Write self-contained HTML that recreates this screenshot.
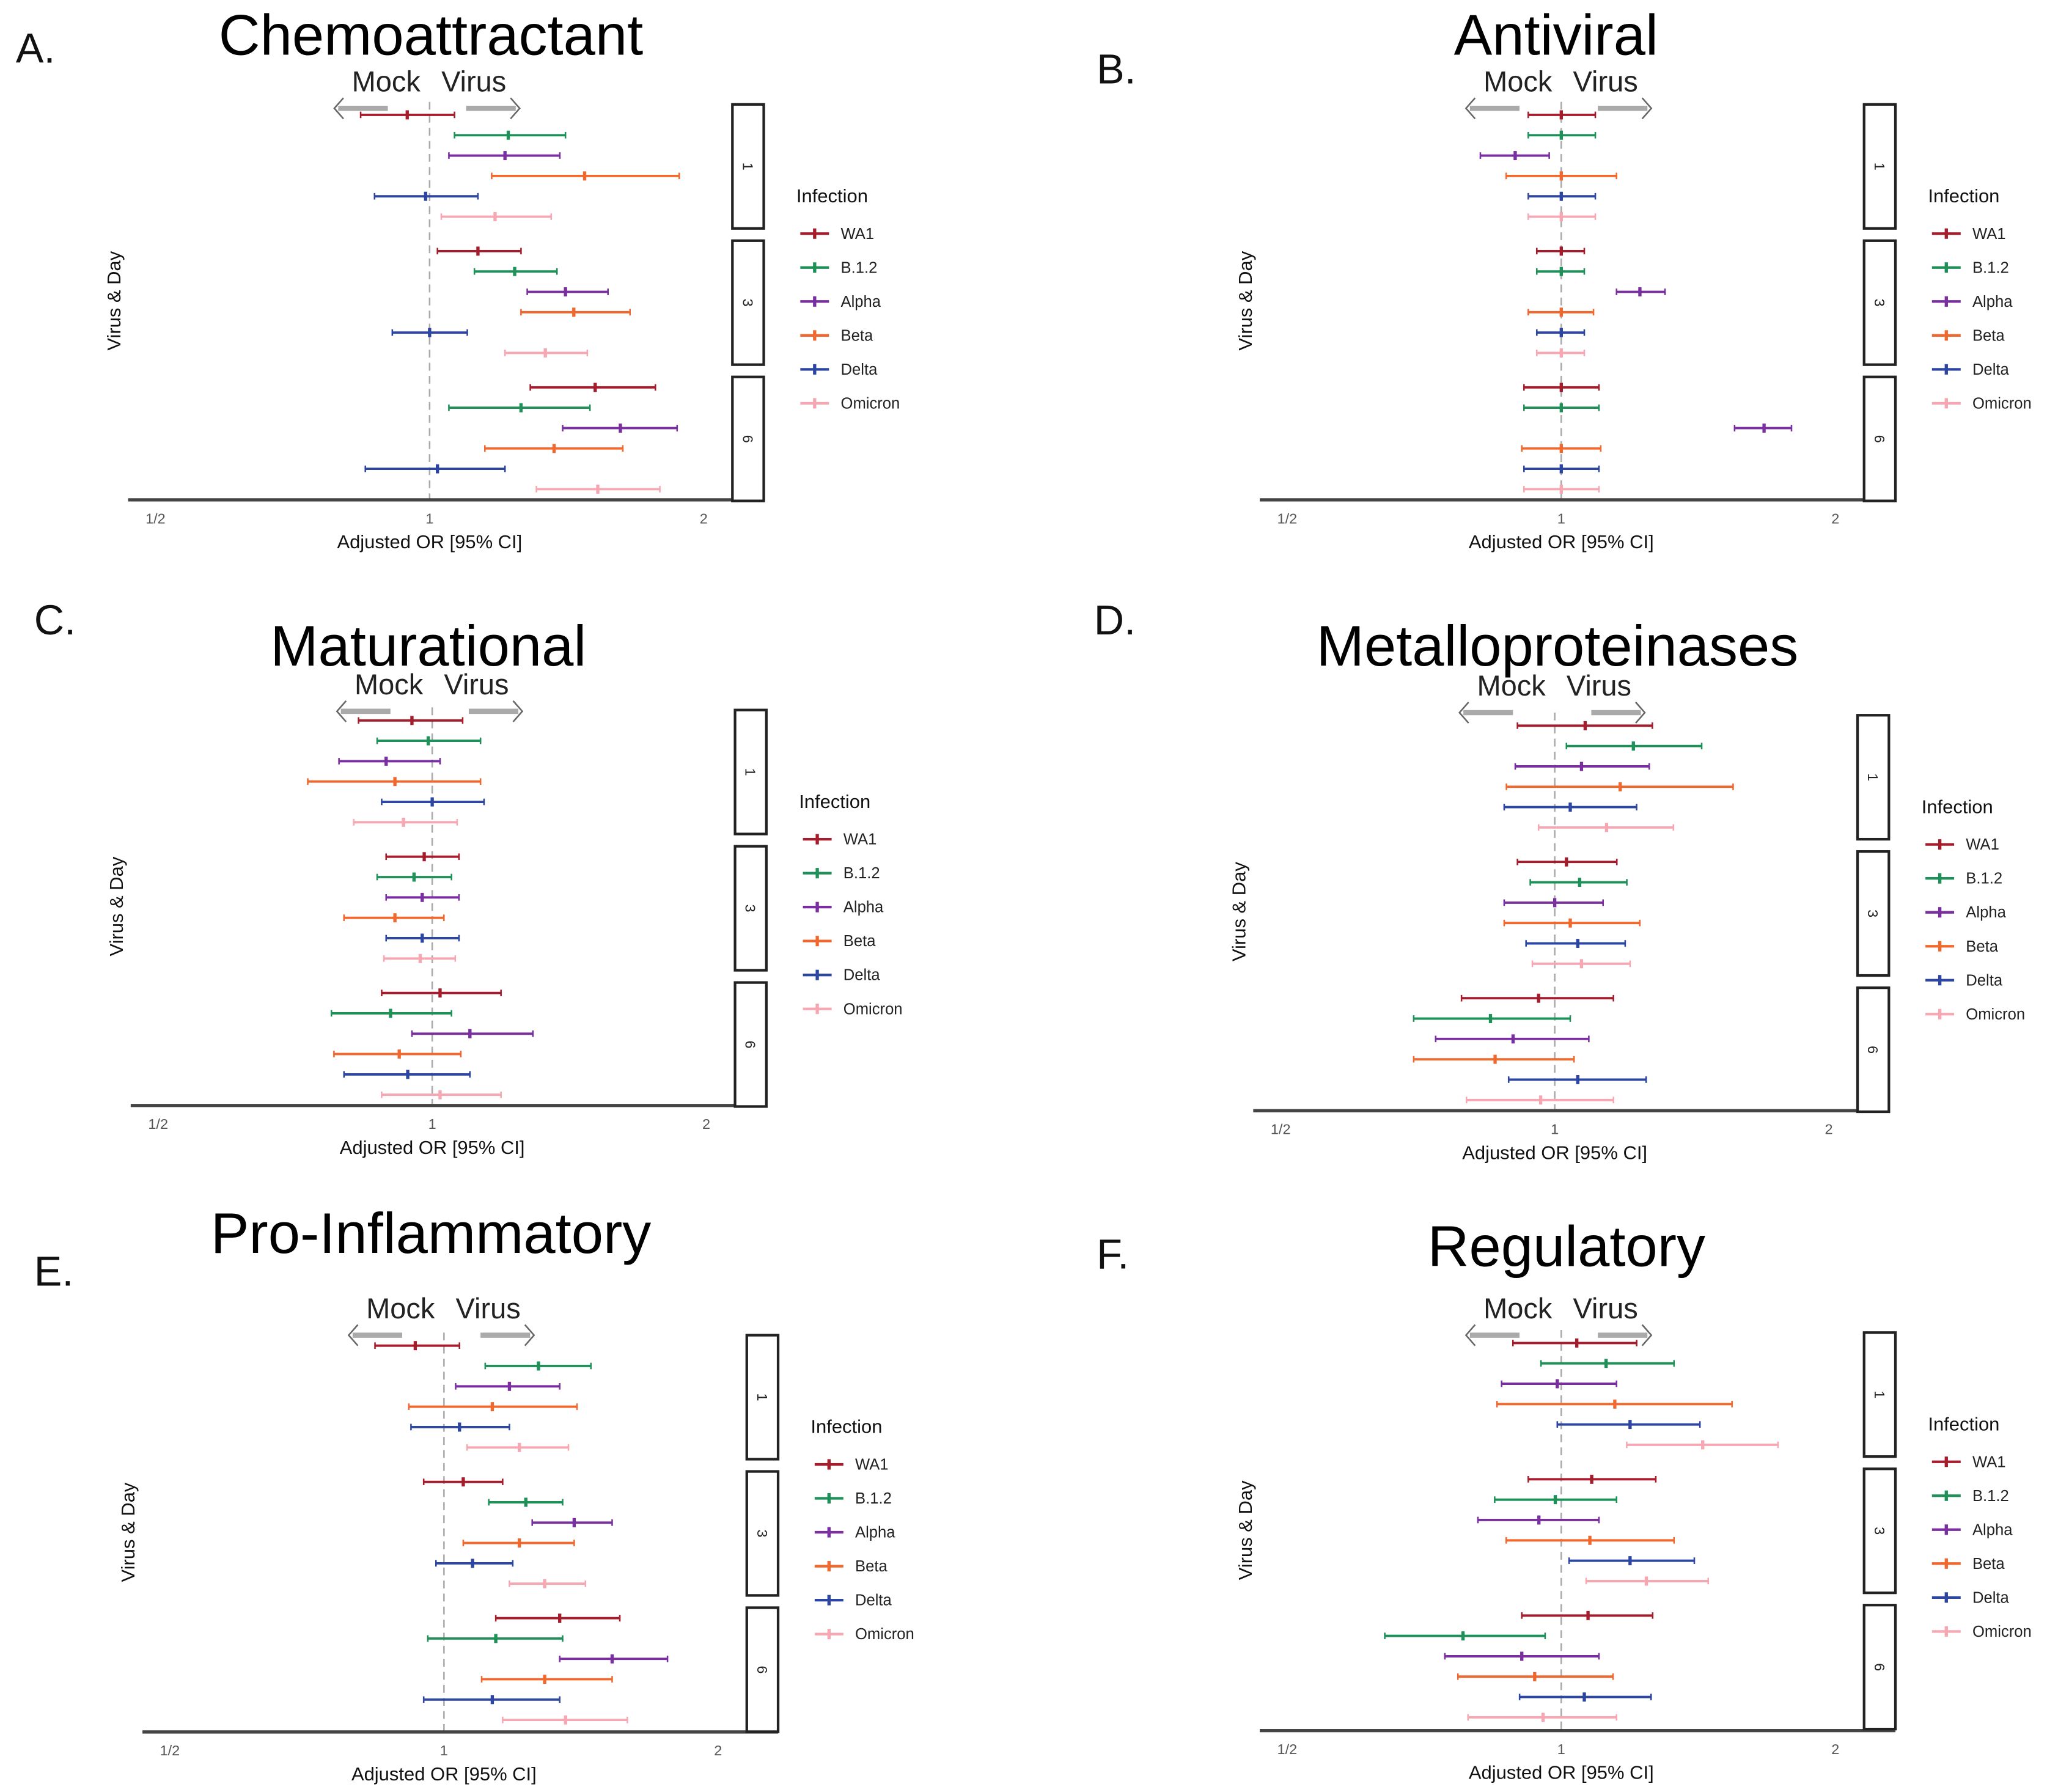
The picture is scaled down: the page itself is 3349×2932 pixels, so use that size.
<!DOCTYPE html>
<html><head><meta charset="utf-8"><style>
html,body{margin:0;padding:0;background:#fff;}
svg{display:block;font-family:"Liberation Sans",sans-serif;}
</style></head><body>
<svg id="fig" xmlns="http://www.w3.org/2000/svg" width="3349" height="2932" viewBox="0 0 1568 1373"></svg>
<script>
const seriesNames = ["WA1","B.1.2","Alpha","Beta","Delta","Omicron"];
const seriesColors = ["#a51d2d","#1e9158","#7a2fa0","#f0682e","#2d46a2","#f6a7b1"];
const dayLabels = ["1","3","6"];
const tickValues = [0.5,1,2];
const tickLabels = ["1/2","1","2"];
// [est, lo, hi] per day group, per series
const chemoData = [
 [[0.945,0.84,1.065],[1.22,1.065,1.41],[1.21,1.05,1.39],[1.48,1.17,1.88],[0.99,0.87,1.13],[1.18,1.03,1.36]],
 [[1.13,1.02,1.26],[1.24,1.12,1.38],[1.41,1.28,1.57],[1.44,1.26,1.66],[1.0,0.91,1.10],[1.34,1.21,1.49]],
 [[1.52,1.29,1.77],[1.26,1.05,1.50],[1.62,1.40,1.87],[1.37,1.15,1.63],[1.02,0.85,1.21],[1.53,1.31,1.79]]];
const antiviralData = [
 [[1,0.92,1.09],[1,0.92,1.09],[0.89,0.815,0.97],[1,0.87,1.15],[1,0.92,1.09],[1,0.92,1.09]],
 [[1,0.94,1.06],[1,0.94,1.06],[1.22,1.15,1.30],[1,0.92,1.085],[1,0.94,1.06],[1,0.94,1.06]],
 [[1,0.91,1.10],[1,0.91,1.10],[1.67,1.55,1.79],[1,0.905,1.105],[1,0.91,1.10],[1,0.91,1.10]]];
const maturData = [
 [[0.95,0.83,1.08],[0.99,0.87,1.13],[0.89,0.79,1.02],[0.91,0.73,1.13],[1,0.88,1.14],[0.93,0.82,1.065]],
 [[0.98,0.89,1.07],[0.955,0.87,1.05],[0.975,0.89,1.07],[0.91,0.80,1.03],[0.975,0.89,1.07],[0.97,0.885,1.06]],
 [[1.02,0.88,1.19],[0.90,0.775,1.05],[1.10,0.95,1.29],[0.92,0.78,1.075],[0.94,0.80,1.10],[1.02,0.88,1.19]]];
const metalData = [
 [[1.08,0.91,1.28],[1.22,1.03,1.45],[1.07,0.905,1.27],[1.18,0.885,1.57],[1.04,0.88,1.23],[1.14,0.96,1.35]],
 [[1.03,0.91,1.17],[1.065,0.94,1.20],[1.0,0.88,1.13],[1.04,0.88,1.24],[1.06,0.93,1.195],[1.07,0.945,1.21]],
 [[0.96,0.79,1.16],[0.85,0.70,1.04],[0.90,0.74,1.09],[0.86,0.70,1.05],[1.06,0.89,1.26],[0.965,0.80,1.16]]];
const proinfData = [
 [[0.93,0.84,1.04],[1.27,1.11,1.45],[1.18,1.03,1.34],[1.13,0.915,1.40],[1.04,0.92,1.18],[1.21,1.06,1.37]],
 [[1.05,0.95,1.16],[1.23,1.12,1.35],[1.39,1.25,1.53],[1.21,1.05,1.39],[1.075,0.98,1.19],[1.29,1.18,1.43]],
 [[1.34,1.14,1.56],[1.14,0.96,1.35],[1.53,1.34,1.76],[1.29,1.10,1.53],[1.13,0.95,1.34],[1.36,1.16,1.59]]];
const regData = [
 [[1.04,0.885,1.21],[1.12,0.95,1.33],[0.99,0.86,1.15],[1.145,0.85,1.54],[1.19,0.99,1.42],[1.43,1.18,1.73]],
 [[1.08,0.92,1.27],[0.985,0.845,1.15],[0.945,0.81,1.10],[1.075,0.87,1.33],[1.19,1.02,1.40],[1.24,1.065,1.45]],
 [[1.07,0.905,1.26],[0.78,0.64,0.96],[0.905,0.745,1.10],[0.935,0.77,1.14],[1.06,0.90,1.255],[0.955,0.79,1.15]]];

const panels = [
 {id:"a",letter:"A.",lx:12,ly:48,title:"Chemoattractant",tx:330,ty:42,x1:329,bottom:383,row0:88,mockY:70,data:chemoData},
 {id:"b",letter:"B.",lx:840,ly:64,title:"Antiviral",tx:1192,ty:42,x1:1196,bottom:383,row0:88,mockY:70,data:antiviralData},
 {id:"c",letter:"C.",lx:26,ly:486,title:"Maturational",tx:328,ty:510,x1:331,bottom:847,row0:552,mockY:532,data:maturData},
 {id:"d",letter:"D.",lx:838,ly:486,title:"Metalloproteinases",tx:1193,ty:510,x1:1191,bottom:851,row0:556,mockY:533,data:metalData},
 {id:"e",letter:"E.",lx:26,ly:985,title:"Pro-Inflammatory",tx:330,ty:960,x1:340,bottom:1327,row0:1031,mockY:1010,data:proinfData},
 {id:"f",letter:"F.",lx:840,ly:972,title:"Regulatory",tx:1200,ty:970,x1:1196,bottom:1326,row0:1029,mockY:1010,data:regData}
];
const NS="http://www.w3.org/2000/svg";
const svg=document.getElementById('fig');
function mk(tag,attrs,parent,text){const e=document.createElementNS(NS,tag);for(const k in attrs)e.setAttribute(k,attrs[k]);if(text!==undefined)e.textContent=text;parent.appendChild(e);return e;}

panels.forEach(p=>{
  const g=mk('g',{},svg);
  
  
  const xs=v=>p.x1+210*Math.log2(v);
  const ys=(gi,si)=>p.row0+gi*104.4+si*15.6;
  const left=p.x1-231, stripL=p.x1+232, stripR=p.x1+256;
  let t=mk('text',{x:p.lx,y:p.ly,'font-size':32,fill:'#111'},g,p.letter);
  
  t=mk('text',{x:p.tx,y:p.ty,'font-size':44,'text-anchor':'middle',fill:'#000',textLength:0},g,p.title);
  t.removeAttribute('textLength');
  
  t=mk('text',{x:p.x1-7,y:p.mockY,'font-size':22,'text-anchor':'end',fill:'#222'},g,'Mock');
  
  t=mk('text',{x:p.x1+9,y:p.mockY,'font-size':22,fill:'#222'},g,'Virus');
  
  const ay=p.mockY+13;
  let a=mk('g',{},g);
  mk('line',{x1:p.x1-70,y1:ay,x2:p.x1-32,y2:ay,stroke:'#aaa','stroke-width':4},a);
  mk('path',{d:`M${p.x1-66},${ay-8} L${p.x1-73},${ay} L${p.x1-66},${ay+8}`,stroke:'#666',fill:'none','stroke-width':1.2},a);
  a=mk('g',{},g);
  mk('line',{x1:p.x1+28,y1:ay,x2:p.x1+66,y2:ay,stroke:'#aaa','stroke-width':4},a);
  mk('path',{d:`M${p.x1+62},${ay-8} L${p.x1+69},${ay} L${p.x1+62},${ay+8}`,stroke:'#666',fill:'none','stroke-width':1.2},a);
  let l=mk('line',{x1:p.x1,y1:p.row0-10,x2:p.x1,y2:p.bottom,stroke:'#aaa','stroke-dasharray':'6,4','stroke-width':1.2},g);
  
  l=mk('line',{x1:left,y1:p.bottom,x2:stripR,y2:p.bottom,stroke:'#444','stroke-width':2.5},g);
  
  tickValues.forEach((v,i)=>{
    const tk=mk('text',{x:xs(v),y:p.bottom+18,'font-size':11,'text-anchor':'middle',fill:'#555'},g,tickLabels[i]);
    
  });
  t=mk('text',{x:p.x1,y:p.bottom+37,'font-size':14.5,'text-anchor':'middle',fill:'#111'},g,'Adjusted OR [95% CI]');
  
  const yc=(p.row0+p.bottom)/2-5;
  t=mk('text',{x:0,y:0,'font-size':14.5,'text-anchor':'middle',fill:'#111',transform:`translate(${left-6},${yc}) rotate(-90)`},g,'Virus & Day');
  
  dayLabels.forEach((d,gi)=>{
    const top=p.row0-8+gi*104.4;
    const s=mk('g',{},g);
    mk('rect',{x:stripL,y:top,width:24,height:95,fill:'#fff',stroke:'#222','stroke-width':2},s);
    mk('text',{x:0,y:0,'font-size':11,'text-anchor':'middle',fill:'#222',transform:`translate(${stripL+8},${top+47.5}) rotate(90)`},s,d);
  });
  p.data.forEach((grp,gi)=>{
    grp.forEach((r,si)=>{
      const y=ys(gi,si),c=seriesColors[si];
      const e=mk('g',{},g);
      
      
      mk('line',{x1:xs(r[1]),y1:y,x2:xs(r[2]),y2:y,stroke:c,'stroke-width':1.8},e);
      mk('line',{x1:xs(r[1]),y1:y-2.5,x2:xs(r[1]),y2:y+2.5,stroke:c,'stroke-width':1.2},e);
      mk('line',{x1:xs(r[2]),y1:y-2.5,x2:xs(r[2]),y2:y+2.5,stroke:c,'stroke-width':1.2},e);
      mk('line',{x1:xs(r[0]),y1:y-3.5,x2:xs(r[0]),y2:y+3.5,stroke:c,'stroke-width':2.5},e);
    });
  });
  const lgx=p.x1+281, lgy=p.row0+62;
  const lg=mk('g',{},g);
  mk('text',{x:lgx,y:lgy+5,'font-size':14.5,fill:'#111'},lg,'Infection');
  seriesNames.forEach((n,i)=>{
    const y=lgy+29+26*i;
    const en=mk('g',{},lg);
    mk('line',{x1:lgx+3,y1:y,x2:lgx+25,y2:y,stroke:seriesColors[i],'stroke-width':2},en);
    mk('line',{x1:lgx+14,y1:y-4,x2:lgx+14,y2:y+4,stroke:seriesColors[i],'stroke-width':2.5},en);
    mk('text',{x:lgx+34,y:y+4,'font-size':12,fill:'#222'},en,n);
  });
});
</script>
</body></html>
